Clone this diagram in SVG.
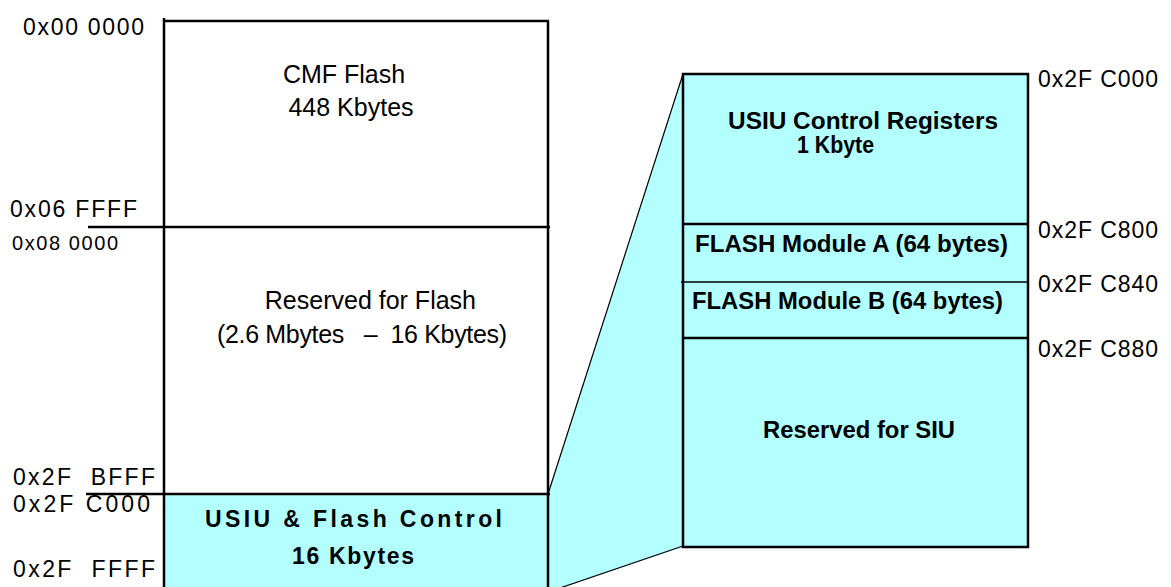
<svg xmlns="http://www.w3.org/2000/svg" width="1171" height="587" viewBox="0 0 1171 587">
<style>
.lbl{font-family:"Liberation Sans",Arial,sans-serif;font-size:23px;fill:#000}
.sm{font-size:20px}
.t{font-family:"Liberation Sans",Arial,sans-serif;font-size:25px;fill:#000;text-anchor:middle}
.b{font-family:"Liberation Sans",Arial,sans-serif;font-weight:bold;font-size:23px;fill:#000}
.ln{stroke:#000;stroke-width:2.5;fill:none}
.cy{fill:#B3FFFF}
</style>
<rect width="1171" height="587" fill="#fff"/>
<g id="connectors">
<polygon class="cy" points="548,494 683,74 683,547 560,588 548,588"/>
<line x1="548" y1="494" x2="683" y2="74" stroke="#000" stroke-width="1.2"/>
<line x1="683" y1="546" x2="560" y2="588" stroke="#000" stroke-width="1.2"/>
</g>
<g id="cmf">
<line class="ln" x1="164" y1="18" x2="164" y2="227"/>
<line class="ln" x1="163" y1="21" x2="549" y2="21"/>
<line class="ln" x1="548" y1="21" x2="548" y2="227"/>
<text class="t" x="344" y="83">CMF Flash</text>
<text class="t" x="351" y="116">448 Kbytes</text>
</g>
<g id="reserved-flash">
<line class="ln" x1="88" y1="227" x2="550" y2="227"/>
<line class="ln" x1="164" y1="227" x2="164" y2="494"/>
<line class="ln" x1="548" y1="227" x2="548" y2="494"/>
<text class="t" x="476" y="309" style="text-anchor:end">Reserved for Flash</text>
<text class="t" x="217" y="343" style="text-anchor:start" textLength="290" lengthAdjust="spacing" xml:space="preserve">(2.6 Mbytes   –  16 Kbytes)</text>
</g>
<g id="usiu">
<rect class="cy" x="165" y="494" width="382" height="93"/>
<line class="ln" x1="86" y1="494" x2="550" y2="494"/>
<line class="ln" x1="164" y1="494" x2="164" y2="587"/>
<line class="ln" x1="548" y1="494" x2="548" y2="587"/>
<text class="b" x="205" y="527" textLength="297" lengthAdjust="spacing">USIU &amp; Flash Control</text>
<text class="b" x="292" y="564" textLength="122" lengthAdjust="spacing">16 Kbytes</text>
</g>
<g id="left-labels">
<text class="lbl" x="23" y="35" textLength="121" lengthAdjust="spacing">0x00 0000</text>
<text class="lbl" x="10" y="217" textLength="127" lengthAdjust="spacing">0x06 FFFF</text>
<text class="lbl sm" x="12" y="250" textLength="106" lengthAdjust="spacing">0x08 0000</text>
<text class="lbl" x="13" y="485" textLength="142" lengthAdjust="spacing" xml:space="preserve">0x2F  BFFF</text>
<text class="lbl" x="13" y="512" textLength="137" lengthAdjust="spacing">0x2F C000</text>
<text class="lbl" x="13" y="577" textLength="142" lengthAdjust="spacing" xml:space="preserve">0x2F  FFFF</text>
</g>
<g id="right-map">
<rect class="cy" x="683" y="74" width="345" height="473" stroke="#000" stroke-width="2.5"/>
<line class="ln" x1="683" y1="224" x2="1028" y2="224"/>
<line x1="681" y1="282" x2="1028" y2="282" stroke="#000" stroke-width="1.5"/>
<line class="ln" x1="683" y1="338" x2="1028" y2="338"/>
</g>
<g id="usiu-regs">
<text class="b" x="728" y="129" textLength="270" lengthAdjust="spacingAndGlyphs">USIU Control Registers</text>
<text class="b" x="797" y="153" textLength="77" lengthAdjust="spacingAndGlyphs">1 Kbyte</text>
</g>
<g id="flash-a">
<text class="b" x="695" y="252" textLength="313" lengthAdjust="spacingAndGlyphs">FLASH Module A (64 bytes)</text>
</g>
<g id="flash-b">
<text class="b" x="692" y="309" textLength="311" lengthAdjust="spacingAndGlyphs">FLASH Module B (64 bytes)</text>
</g>
<g id="siu">
<text class="b" x="763" y="438" textLength="192" lengthAdjust="spacingAndGlyphs">Reserved for SIU</text>
</g>
<g id="right-labels">
<text class="lbl" x="1038" y="87" textLength="120" lengthAdjust="spacing">0x2F C000</text>
<text class="lbl" x="1038" y="238" textLength="120" lengthAdjust="spacing">0x2F C800</text>
<text class="lbl" x="1038" y="292" textLength="120" lengthAdjust="spacing">0x2F C840</text>
<text class="lbl" x="1038" y="357" textLength="120" lengthAdjust="spacing">0x2F C880</text>
</g>
</svg>
